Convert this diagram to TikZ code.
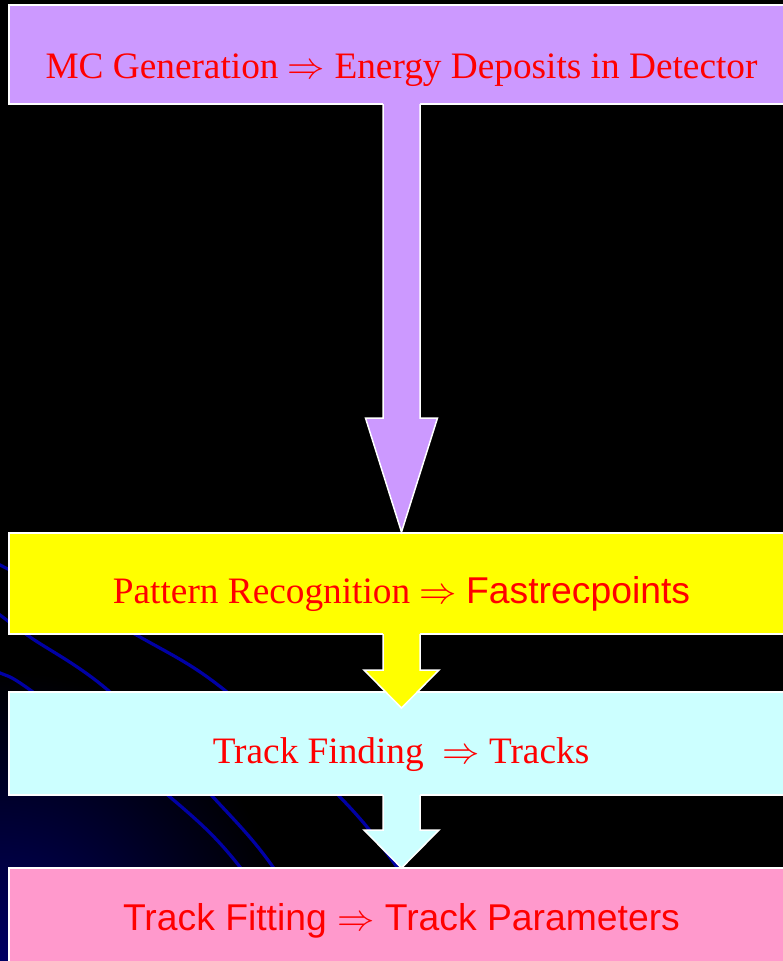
\documentclass[tikz,border=0pt]{standalone}
\usepackage{fix-cm}
\usepackage{fontspec}
\setmainfont{Liberation Serif}
\newfontfamily\arialfont{Liberation Sans}
\usetikzlibrary{calc}
\definecolor{boxpurple}{RGB}{204,153,255}
\definecolor{boxyellow}{RGB}{255,255,0}
\definecolor{boxcyan}{RGB}{204,255,255}
\definecolor{boxpink}{RGB}{255,153,204}
\definecolor{glow}{RGB}{0,0,100}
\definecolor{streak}{RGB}{0,0,165}

% block arrow from one stage box to the next
% #1 source, #2 target, #3 fill, #4 head half width, #5 head length, #6 tip depth below target top
\newcommand\blockarrow[6]{%
  \coordinate (ba-top) at (axis |- #1.south);
  \coordinate (ba-tip) at ($(axis |- #2.north)+(0,#6)$);
  \coordinate (ba-base) at ($(ba-tip)+(0,-#5)$);
  \fill[#3] ($(ba-top)+(-18.5,-1)$) -- ($(ba-base)+(-18.5,0)$) -- ($(ba-base)+(-#4,0)$)
    -- (ba-tip) -- ($(ba-base)+(#4,0)$) -- ($(ba-base)+(18.5,0)$) -- ($(ba-top)+(18.5,-1)$) -- cycle;
  \draw[outline] ($(ba-top)+(-18.5,0)$) -- ($(ba-base)+(-18.5,0)$) -- ($(ba-base)+(-#4,0)$)
    -- (ba-tip) -- ($(ba-base)+(#4,0)$) -- ($(ba-base)+(18.5,0)$) -- ($(ba-top)+(18.5,0)$);
}

\begin{document}
\begin{tikzpicture}[x=1pt,y=-1pt,
  outline/.style={draw=white,line width=1.5pt,line join=miter},
  stagebox/.style={outline,rectangle,inner sep=0pt,outer sep=0pt,anchor=north west,minimum width=781pt},
  stagetext/.style={text=red,anchor=base,inner sep=0pt,font=\fontsize{37.3}{40}\selectfont},
  streakline/.style={draw=streak,line width=3.2pt}]

\useasboundingbox (0,0) rectangle (783,961);
\begin{scope}
\clip (0,0) rectangle (783,961);

% dark backdrop with a blue glow in the lower left corner
\fill[black] (0,0) rectangle (783,961);
\shade[inner color=glow,outer color=black] (0,961) circle (290);

% curved streaks behind the boxes
\draw[streakline] plot[smooth,tension=0.6] coordinates {(-10,560) (0,565) (140,637) (227,692) (340,797) (397,867) (460,961)};
\draw[streakline] plot[smooth,tension=0.6] coordinates {(-10,608) (0,615) (30,637) (110,692) (213,797) (273,867) (330,961)};
\draw[streakline] plot[smooth,tension=0.6] coordinates {(-10,667) (0,673) (33,692) (170,797) (240,867) (300,961)};

\coordinate (axis) at (401.5,0);

% stage boxes
\node[stagebox,fill=boxpurple,minimum height=99pt] (mc) at (9,5) {};
\node[stagebox,fill=boxyellow,minimum height=101pt] (pr) at (9,533) {};
\node[stagebox,fill=boxcyan,minimum height=103pt] (tf) at (9,692) {};
\node[stagebox,fill=boxpink,minimum height=110pt] (fit) at (9,868) {};

% arrows between stages
\blockarrow{mc}{pr}{boxpurple}{36}{114}{-1}
\blockarrow{pr}{tf}{boxyellow}{37.5}{38}{16}
\blockarrow{tf}{fit}{boxcyan}{37.5}{38}{0}

% stage labels
\node[stagetext] (t-mc) at (401.5,78) {MC Generation $\Rightarrow$ Energy Deposits in Detector};
\node[stagetext] (t-pr) at (401.5,603) {Pattern Recognition $\Rightarrow$ {\arialfont Fastrecpoints}};
\node[stagetext] (t-tf) at (401,763) {Track Finding\ \ $\Rightarrow$ Tracks};
\node[stagetext,font=\arialfont\fontsize{37.3}{40}\selectfont] (t-fit) at (401.5,930) {Track Fitting $\Rightarrow$ Track Parameters};
\end{scope}
\end{tikzpicture}
\end{document}
